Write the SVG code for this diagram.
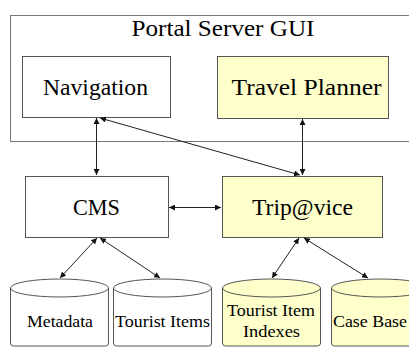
<svg xmlns="http://www.w3.org/2000/svg" width="409" height="347" viewBox="0 0 409 347">
<defs>
<style>
.box{fill:#fff;stroke:#555;stroke-width:1}
.yel{fill:#ffffcc;stroke:#555;stroke-width:1}
.t{font-family:"Liberation Serif","Times New Roman",serif;fill:#000;text-anchor:middle}
.big{font-size:23px}
.sm{font-size:17px}
.c{stroke:#222;stroke-width:1;fill:none;marker-start:url(#ah);marker-end:url(#ah)}
</style>
<marker id="ah" viewBox="0 0 10 10" refX="10" refY="5" markerWidth="6" markerHeight="6" orient="auto-start-reverse" markerUnits="userSpaceOnUse">
<path d="M0,0 L10,5 L0,10 z" fill="#111"/>
</marker>
</defs>
<rect width="409" height="347" fill="#fff"/>
<g id="portal">
<rect x="10.5" y="15.5" width="410" height="126" fill="#fff" stroke="#777"/>
<text class="t big" x="223" y="36" textLength="183" lengthAdjust="spacingAndGlyphs">Portal Server GUI</text>
</g>
<g id="navigation">
<rect class="box" x="22.5" y="56.5" width="148" height="61"/>
<text class="t big" x="95.5" y="95" textLength="105" lengthAdjust="spacingAndGlyphs">Navigation</text>
</g>
<g id="travel-planner">
<rect class="yel" x="217.5" y="56.5" width="171" height="62"/>
<text class="t big" x="306.5" y="95" textLength="150" lengthAdjust="spacingAndGlyphs">Travel Planner</text>
</g>
<g id="cms">
<rect class="box" x="25.5" y="176.5" width="143" height="61"/>
<text class="t big" x="96.5" y="215" textLength="47" lengthAdjust="spacingAndGlyphs">CMS</text>
</g>
<g id="tripavice">
<rect class="yel" x="222.5" y="176.5" width="160" height="61"/>
<text class="t big" x="302.5" y="215" textLength="101" lengthAdjust="spacingAndGlyphs">Trip@vice</text>
</g>
<g id="metadata">
<path class="box" d="M10.5,288 A49,9 0 0 1 108.5,288 L108.5,343 Q108.5,346 105.5,346 L13.5,346 Q10.5,346 10.5,343 Z"/>
<path d="M10.5,288 A49,9 0 0 0 108.5,288" fill="none" stroke="#555"/>
<text class="t sm" x="60" y="327" textLength="66" lengthAdjust="spacingAndGlyphs">Metadata</text>
</g>
<g id="tourist-items">
<path class="box" d="M113.5,288 A49,9 0 0 1 211.5,288 L211.5,343 Q211.5,346 208.5,346 L116.5,346 Q113.5,346 113.5,343 Z"/>
<path d="M113.5,288 A49,9 0 0 0 211.5,288" fill="none" stroke="#555"/>
<text class="t sm" x="162.5" y="327" textLength="95" lengthAdjust="spacingAndGlyphs">Tourist Items</text>
</g>
<g id="tourist-item-indexes">
<path class="yel" d="M222.5,288 A49,9 0 0 1 320.5,288 L320.5,343 Q320.5,346 317.5,346 L225.5,346 Q222.5,346 222.5,343 Z"/>
<path d="M222.5,288 A49,9 0 0 0 320.5,288" fill="none" stroke="#555"/>
<text class="t sm" x="271" y="315.5" textLength="88" lengthAdjust="spacingAndGlyphs">Tourist Item</text>
<text class="t sm" x="271.5" y="337" textLength="57" lengthAdjust="spacingAndGlyphs">Indexes</text>
</g>
<g id="case-base">
<path class="yel" d="M331.5,288 A49,9 0 0 1 429.5,288 L429.5,343 Q429.5,346 426.5,346 L334.5,346 Q331.5,346 331.5,343 Z"/>
<path d="M331.5,288 A49,9 0 0 0 429.5,288" fill="none" stroke="#555"/>
<text class="t sm" x="370" y="327" textLength="74" lengthAdjust="spacingAndGlyphs">Case Base</text>
</g>
<g id="connectors">
<line class="c" x1="96.5" y1="118" x2="96.5" y2="175"/>
<line class="c" x1="302.5" y1="119" x2="302.5" y2="175"/>
<line class="c" x1="100" y1="118" x2="300" y2="175"/>
<line class="c" x1="169" y1="207.5" x2="221" y2="207.5"/>
<line class="c" x1="97" y1="238" x2="60" y2="278"/>
<line class="c" x1="100" y1="238" x2="160" y2="278"/>
<line class="c" x1="299" y1="238" x2="272" y2="278"/>
<line class="c" x1="304" y1="238" x2="368" y2="278"/>
</g>
</svg>
